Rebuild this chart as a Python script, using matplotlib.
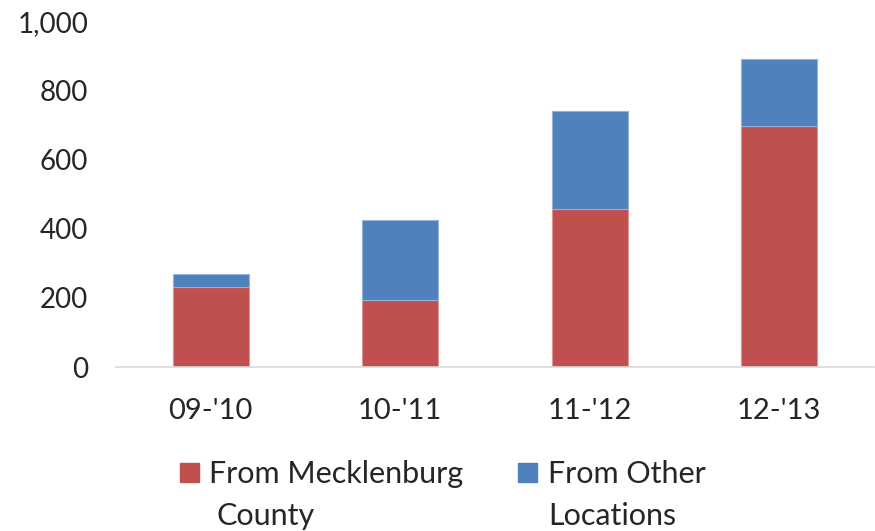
import matplotlib.pyplot as plt
from matplotlib.patches import Rectangle
import numpy as np

# Students per school year, split by where they came from
years = ["09-'10", "10-'11", "11-'12", "12-'13"]
mecklenburg = [233, 194, 457, 697]
other = [37, 232, 284, 195]
legend_labels = [['From Mecklenburg', 'County'], ['From Other', 'Locations']]

red = '#C0504D'
blue = '#4F81BD'
text_color = '#262626'

plt.rcParams['font.family'] = ['Lato', 'DejaVu Sans']

W, H = 875, 531
fig = plt.figure(figsize=(W / 100, H / 100), dpi=100, facecolor='white')
ax = fig.add_axes([116 / W, 1 - 367 / H, (874 - 116) / W, (367 - 21.7) / H])

x = np.arange(len(years))
ax.bar(x, mecklenburg, width=0.4, color=red, edgecolor='#D99694', linewidth=0.8)
ax.bar(x, other, width=0.4, bottom=mecklenburg, color=blue,
       edgecolor='#95B3D7', linewidth=0.8)

ax.set_xlim(-0.5, len(years) - 0.5)
ax.set_ylim(0, 1000)
ax.set_yticks(range(0, 1001, 200))
ax.set_yticklabels([f'{v:,}' for v in range(0, 1001, 200)])
ax.set_xticks(x)
ax.set_xticklabels(years)
ax.tick_params(axis='y', length=0, pad=20, labelsize=20, colors=text_color)
ax.tick_params(axis='x', length=0, pad=22, labelsize=21, colors=text_color)

for side in ['top', 'right', 'left']:
    ax.spines[side].set_visible(False)
ax.spines['bottom'].set_color('#D9D9D9')
ax.spines['bottom'].set_linewidth(1.2)


# Legend drawn by hand: square swatch next to a two-line label
def fx(px):
    return px / W


def fy(py):
    return 1 - py / H


swatches = [(180, red, 209, 216), (518, blue, 548, 548)]
for (sx, color, tx1, tx2), lines in zip(swatches, legend_labels):
    fig.add_artist(Rectangle((fx(sx), fy(481.7)), 19 / W, 18.4 / H,
                             transform=fig.transFigure, color=color))
    fig.text(fx(tx1), fy(483.3), lines[0], fontsize=22, color=text_color,
             va='baseline', ha='left')
    fig.text(fx(tx2), fy(525), lines[1], fontsize=22, color=text_color,
             va='baseline', ha='left')

fig.savefig('out.png', dpi=100, facecolor='white')
